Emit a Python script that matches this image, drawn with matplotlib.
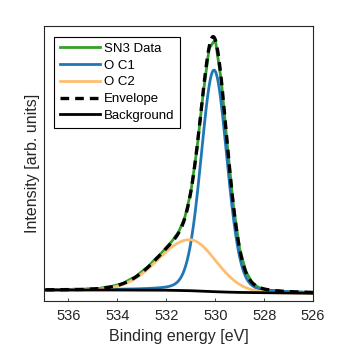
import numpy as np
import matplotlib
matplotlib.use('Agg')
import matplotlib.pyplot as plt

plt.rcParams['font.family'] = ['Liberation Sans', 'DejaVu Sans']

# measured O 1s spectrum (binding energy in eV, intensity in arb. units)
energy = [537.0, 536.75, 536.5, 536.25, 536.0, 535.75, 535.5, 535.25, 535.0,
          534.75, 534.5, 534.25, 534.0, 533.75, 533.5, 533.25, 533.0, 532.75,
          532.5, 532.25, 532.0, 531.75, 531.5, 531.25, 531.0, 530.75, 530.5,
          530.25, 530.0, 529.75, 529.5, 529.25, 529.0, 528.75, 528.5, 528.25,
          528.0, 527.75, 527.5, 527.25, 527.0, 526.75, 526.5, 526.25, 526.0]
intensity = [11.6, 11.0, 11.5, 11.1, 11.4, 11.9, 11.3, 12.2, 12.4,
             12.5, 13.8, 14.5, 16.2, 17.6, 21.4, 24.2, 29.5, 34.0,
             40.8, 46.5, 53.5, 60.4, 68.8, 83.0, 108.5, 151.5, 206.0,
             252.5, 261.5, 219.5, 154.0, 93.5, 52.0, 29.5, 18.8, 13.8,
             11.9, 10.6, 10.2, 9.4, 9.3, 8.6, 8.9, 8.2, 8.0]

# Shirley-type background read at a few energies
bg_energy = [537.0, 534.0, 532.0, 531.0, 530.5, 530.0, 529.5, 529.0, 528.0, 526.0]
bg_value = [11.0, 11.0, 10.8, 10.3, 9.8, 9.3, 8.9, 8.6, 8.3, 7.8]

# fitted components: name, centre [eV], height, low-BE width, high-BE width, lorentz fraction
comp_names = ['O C1', 'O C2']
comp_center = [530.05, 531.03]
comp_height = [221.5, 51.0]
comp_sigma_low = [0.53, 1.05]
comp_sigma_high = [0.53, 1.30]
comp_eta = [0.15, 0.0]
comp_colors = ['#1f78b4', '#fdbf6f']


def peak(e, c, h, s_lo, s_hi, eta):
    s = np.where(e > c, s_hi, s_lo)
    g = np.exp(-0.5 * ((e - c) / s) ** 2)
    gam = 1.1774 * s
    lor = 1.0 / (1.0 + ((e - c) / gam) ** 2)
    return h * ((1 - eta) * g + eta * lor)


e_fine = np.linspace(526, 537, 1101)
bg_fine = np.interp(e_fine, bg_energy[::-1], bg_value[::-1])

fig = plt.figure(figsize=(3.46, 3.46), dpi=100)
ax = fig.add_axes([0.127, 0.130, 0.778, 0.795])

ax.plot(energy, intensity, color='#33a02c', lw=2.0, label='SN3 Data')
total = bg_fine.copy()
for i in range(len(comp_names)):
    p = peak(e_fine, comp_center[i], comp_height[i], comp_sigma_low[i],
             comp_sigma_high[i], comp_eta[i])
    total += p
    ax.plot(e_fine, p + bg_fine, color=comp_colors[i], lw=2.0, label=comp_names[i])
ax.plot(e_fine, total, color='k', lw=2.4, dashes=(2.6, 1.8), label='Envelope')
ax.plot(bg_energy, bg_value, color='k', lw=2.0, label='Background')

ax.set_xlim(537, 526)
ax.set_ylim(0, 275)
ax.set_xticks([536, 534, 532, 530, 528, 526])
ax.set_yticks([])
ax.tick_params(axis='x', direction='in', length=2.5, top=False, labelsize=10.5,
               colors='#262626', width=0.6, pad=6)
for sp in ax.spines.values():
    sp.set_color('#262626')
    sp.set_linewidth(0.8)
ax.set_xlabel('Binding energy [eV]', fontsize=11.5, color='#262626', labelpad=4)
ax.set_ylabel('Intensity [arb. units]', fontsize=11.5, color='#262626', labelpad=3)

leg = ax.legend(loc='upper left', fontsize=9.5, handlelength=3.0, labelspacing=0.35,
                handletextpad=0.3, borderaxespad=0.8, fancybox=False,
                edgecolor='k', framealpha=1, borderpad=0.45)
leg.get_frame().set_linewidth(0.8)

fig.savefig('out.png', dpi=100)
